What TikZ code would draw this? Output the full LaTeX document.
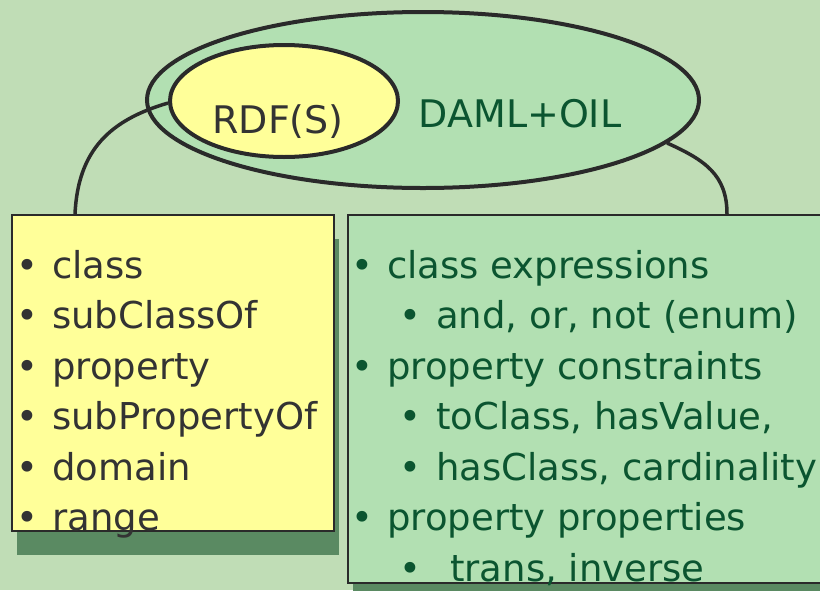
\documentclass[tikz,border=0pt]{standalone}
\usepackage{fontspec}
\setmainfont{DejaVu Sans}
\usetikzlibrary{shapes.geometric, shadows, positioning}
\definecolor{PageGreen}{HTML}{C0DDB6}
\definecolor{SetGreen}{HTML}{B2E0B2}
\definecolor{NoteYellow}{HTML}{FFFF99}
\definecolor{ShadowGreen}{HTML}{5A8A62}
\definecolor{InkGray}{HTML}{333333}
\definecolor{InkGreen}{HTML}{0B5530}
\definecolor{LineDark}{HTML}{2A2A2A}

\newcommand{\bul}[2][36pt]{\makebox[#1][l]{•}#2}

\begin{document}
\begin{tikzpicture}[x=1pt, y=-1pt, every node/.style={font=\fontsize{37}{44}\selectfont, inner sep=0pt},
    listline/.style={anchor=base west},
    notebox/.style={draw=LineDark, line width=1.6pt, anchor=north west, drop shadow={shadow xshift=5pt, shadow yshift=-24pt, fill=ShadowGreen, opacity=1}}]
\useasboundingbox (0,0) rectangle (820,590);
\clip (0,0) rectangle (820,590);
\fill[PageGreen] (0,0) rectangle (820,590);

% Sets
\node[ellipse, draw=LineDark, line width=4pt, fill=SetGreen, minimum width=552pt, minimum height=176pt] (daml) at (423,100) {};
\node[ellipse, draw=LineDark, line width=4pt, fill=NoteYellow, minimum width=228pt, minimum height=112pt] (rdf) at (284,101) {};
\node[anchor=base, text=InkGray, font=\fontsize{38}{44}\selectfont] (rdfname) at (278,133) {RDF(S)};
\node[anchor=base, text=InkGreen, font=\fontsize{38}{44}\selectfont] (damlname) at (520,127) {DAML+OIL};

% Boxes
\node[notebox, fill=NoteYellow, minimum width=322pt, minimum height=316pt] (rdfbox) at (11,214) {};
\node[notebox, fill=SetGreen, minimum width=500pt, minimum height=368pt] (damlbox) at (347,214) {};

% Links
\draw[LineDark, line width=3.5pt] (rdf.181) .. controls (110,120) and (78,150) .. ([xshift=64pt]rdfbox.north west);
\draw[LineDark, line width=3.5pt] (daml.-10) .. controls (705,160) and (727,175) .. ([xshift=380pt]damlbox.north west);

% RDF(S) list
\node[listline, text=InkGray] (cls) at (16,278) {\bul{class}};
\node[listline, text=InkGray] (subcls) at (16,328.5) {\bul{subClassOf}};
\node[listline, text=InkGray] (prop) at (16,379) {\bul{property}};
\node[listline, text=InkGray] (subprop) at (16,429.5) {\bul{subPropertyOf}};
\node[listline, text=InkGray] (dom) at (16,480) {\bul{domain}};
\node[listline, text=InkGray] (rng) at (16,530.5) {\bul{range}};

% DAML+OIL list
\node[listline, text=InkGreen] (clsexpr) at (351,278) {\bul{class expressions}};
\node[listline, text=InkGreen] (bool) at (399,328.5) {\bul[37pt]{and, or, not (enum)}};
\node[listline, text=InkGreen] (propcons) at (351,379) {\bul{property constraints}};
\node[listline, text=InkGreen] (tocls) at (399,429.5) {\bul[37pt]{toClass, hasValue,}};
\node[listline, text=InkGreen] (hascls) at (399,480) {\bul[37pt]{hasClass, cardinality}};
\node[listline, text=InkGreen] (propprop) at (351,530.5) {\bul{property properties}};
\node[listline, text=InkGreen] (trans) at (399,581) {\bul[51pt]{trans, inverse}};
\end{tikzpicture}
\end{document}
